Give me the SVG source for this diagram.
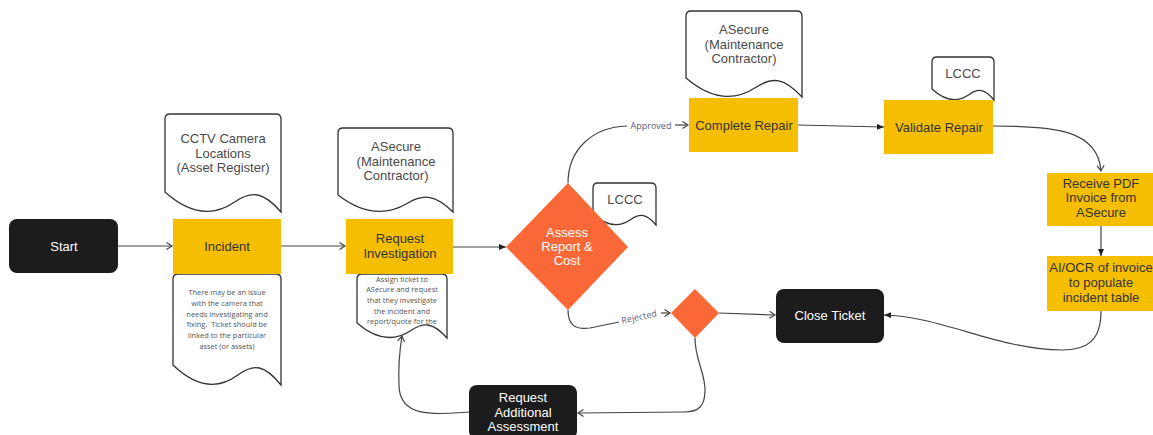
<svg xmlns="http://www.w3.org/2000/svg" width="1153" height="435" viewBox="0 0 1153 435">
<defs>
<style>
.doc{fill:#fff;stroke:#333;stroke-width:1.3}
.proc{fill:#F6BE00}
.term{fill:#1c1c1c}
.dec{fill:#FB6838}
.t{font-family:"Liberation Sans",Arial,sans-serif;font-size:13px;text-anchor:middle}
.dark{fill:#333}
.doct{fill:#4a4a4a}
.white{fill:#fff}
.note{font-family:"Open Sans","Liberation Sans",sans-serif;font-size:7.4px;fill:#555;text-anchor:middle;white-space:pre}
.lbl{font-family:"Open Sans","Liberation Sans",sans-serif;font-size:9px;fill:#5a5a80;text-anchor:middle}
.c{fill:none;stroke:#444;stroke-width:1.2}
.open{marker-end:url(#open)}
.fill{marker-end:url(#filled)}
</style>
<marker id="open" markerUnits="userSpaceOnUse" markerWidth="10" markerHeight="10" refX="6.5" refY="4" orient="auto">
<path d="M1,0.5 L6.5,4 L1,7.5" fill="none" stroke="#444" stroke-width="1.2"/>
</marker>
<marker id="filled" markerUnits="userSpaceOnUse" markerWidth="10" markerHeight="10" refX="7" refY="3" orient="auto">
<path d="M0,0 L7,3 L0,6 Z" fill="#222"/>
</marker>
</defs>
<rect width="1153" height="435" fill="#fff"/>

<g id="connectors">
<path class="c open" d="M118,246 L172,246"/>
<path class="c open" d="M281,246 L345,246"/>
<path class="c fill" d="M453,247 L506,247"/>
<path class="c" d="M568,183 C568,150 592,127 627,126"/>
<text class="lbl" x="651" y="129">Approved</text>
<path class="c open" d="M675,125 L688,125"/>
<path class="c fill" d="M798,125 L884,127"/>
<path class="c open" d="M993,126 C1055,126 1098,130 1101,171"/>
<path class="c fill" d="M1101,226 L1101,256"/>
<path class="c fill" d="M1101,311 C1101,340 1088,350 1062,350 C1000,350 940,316 884,315"/>
<path class="c" d="M568,310 C568,325 575,330 590,328 L619,322"/>
<text class="lbl" x="639" y="320" transform="rotate(-12 639 317)">Rejected</text>
<path class="c open" d="M661,313 L670,313"/>
<path class="c open" d="M719,313 L775,315"/>
<path class="c open" d="M695,338 C695,360 705,372 705,390 C705,406 699,412 684,412 L578,413"/>
<path class="c open" d="M469,412 C440,414 399,420 399,385 C398,362 400,348 402,336"/>
</g>

<g id="doc-cctv">
<path class="doc" d="M165,192 L165,119 Q165,114 170,114 L276,114 Q281,114 281,119 L281,212 C263.6,192 252,190 234.6,202 C217.2,214 194,218 165,192 Z"/>
<text class="t doct" x="223" y="143">CCTV Camera</text>
<text class="t doct" x="223" y="158">Locations</text>
<text class="t doct" x="223" y="172">(Asset Register)</text>
</g>
<g id="doc-incident-note">
<path class="doc" d="M173,365 L173,279 Q173,274 178,274 L276,274 Q281,274 281,279 L281,385 C264.8,365 254,363 237.8,375 C221.6,387 200,391 173,365 Z"/>
<text class="note" x="227" y="295">There may be an issue</text>
<text class="note" x="227" y="305.8">with the camera that</text>
<text class="note" x="227" y="316.6">needs investigating and</text>
<text class="note" x="227" y="327.4" xml:space="preserve">fixing.  Ticket should be</text>
<text class="note" x="227" y="338.2">linked to the particular</text>
<text class="note" x="227" y="349">asset (or assets)</text>
</g>
<g id="doc-asecure-1">
<path class="doc" d="M338,195 L338,133 Q338,128 343,128 L448,128 Q453,128 453,133 L453,212 C435.75,195 424.25,193.3 407,203.5 C389.75,213.7 366.75,217.1 338,195 Z"/>
<text class="t doct" x="396" y="151">ASecure</text>
<text class="t doct" x="396" y="166">(Maintenance</text>
<text class="t doct" x="396" y="180">Contractor)</text>
</g>
<g id="doc-request-note">
<path class="doc" d="M357,323 L357,279 Q357,274 362,274 L442,274 Q447,274 447,279 L447,338 C433.5,323 424.5,321.5 411,330.5 C397.5,339.5 379.5,342.5 357,323 Z"/>
<text class="note" x="402" y="281.7">Assign ticket to</text>
<text class="note" x="402" y="292.3">ASecure and request</text>
<text class="note" x="402" y="303">that they investigate</text>
<text class="note" x="402" y="313.7">the incident and</text>
<text class="note" x="402" y="324.4">report/quote for the</text>
</g>
<g id="doc-lccc-1">
<path class="doc" d="M593,214 L593,188 Q593,183 598,183 L651,183 Q656,183 656,188 L656,225 C646.55,214 640.25,212.9 630.8,219.5 C621.35,226.1 608.75,228.3 593,214 Z"/>
<text class="t doct" x="625" y="204">LCCC</text>
</g>
<g id="doc-asecure-2">
<path class="doc" d="M686,78 L686,16 Q686,11 691,11 L797,11 Q802,11 802,16 L802,97 C784.6,78 773,76.1 755.6,87.5 C738.2,98.9 715,102.7 686,78 Z"/>
<text class="t doct" x="744" y="34">ASecure</text>
<text class="t doct" x="744" y="49">(Maintenance</text>
<text class="t doct" x="744" y="63">Contractor)</text>
</g>
<g id="doc-lccc-2">
<path class="doc" d="M932,89 L932,62 Q932,57 937,57 L989,57 Q994,57 994,62 L994,100 C984.7,89 978.5,87.9 969.2,94.5 C959.9,101.1 947.5,103.3 932,89 Z"/>
<text class="t doct" x="963" y="78">LCCC</text>
</g>

<g id="start">
<rect class="term" x="9" y="219" width="109" height="54" rx="8"/>
<text class="t white" x="64" y="251">Start</text>
</g>
<g id="incident">
<rect class="proc" x="173" y="219" width="108" height="55"/>
<text class="t dark" x="227" y="251">Incident</text>
</g>
<g id="request-investigation">
<rect class="proc" x="346" y="219" width="107" height="55"/>
<text class="t dark" x="400" y="243">Request</text>
<text class="t dark" x="400" y="258">Investigation</text>
</g>
<g id="assess">
<polygon class="dec" points="568,183 628,247 568,310 506,247"/>
<text class="t white" x="567" y="237">Assess</text>
<text class="t white" x="567" y="251">Report &amp;</text>
<text class="t white" x="567" y="265">Cost</text>
</g>
<g id="complete-repair">
<rect class="proc" x="689" y="98" width="109" height="54"/>
<text class="t dark" x="744" y="130">Complete Repair</text>
</g>
<g id="validate-repair">
<rect class="proc" x="884" y="100" width="109" height="54"/>
<text class="t dark" x="939" y="132">Validate Repair</text>
</g>
<g id="receive-pdf">
<rect class="proc" x="1047" y="173" width="108" height="53"/>
<text class="t dark" x="1101" y="188">Receive PDF</text>
<text class="t dark" x="1101" y="202">Invoice from</text>
<text class="t dark" x="1101" y="217">ASecure</text>
</g>
<g id="ai-ocr">
<rect class="proc" x="1047" y="256" width="108" height="55"/>
<text class="t dark" x="1101" y="272">AI/OCR of invoice</text>
<text class="t dark" x="1101" y="287">to populate</text>
<text class="t dark" x="1101" y="302">incident table</text>
</g>
<g id="rejected-decision">
<polygon class="dec" points="695,289 719,313 695,338 671,313"/>
</g>
<g id="close-ticket">
<rect class="term" x="776" y="289" width="108" height="54" rx="8"/>
<text class="t white" x="830" y="320">Close Ticket</text>
</g>
<g id="request-additional">
<rect class="term" x="469" y="385" width="108" height="54" rx="8"/>
<text class="t white" x="523" y="402">Request</text>
<text class="t white" x="523" y="417">Additional</text>
<text class="t white" x="523" y="431">Assessment</text>
</g>
</svg>
